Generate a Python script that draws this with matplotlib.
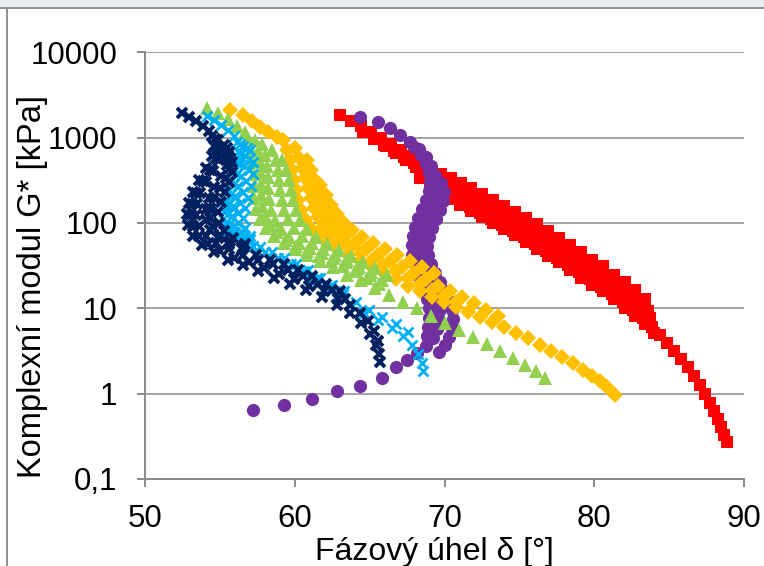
import matplotlib
matplotlib.use("Agg")
import matplotlib.pyplot as plt
from matplotlib.patches import Rectangle
from matplotlib.lines import Line2D
from matplotlib.ticker import NullLocator

plt.rcParams['font.family'] = ['Liberation Sans', 'DejaVu Sans']

# fazovy uhel [°] a komplexni modul [kPa], kazda serie ma nekolik vetvi
navy_delta = [
    [52.47, 52.94, 53.41, 53.87, 54.27],
    [54.47, 54.61, 54.47, 54.07, 53.61, 53.21, 52.94, 52.80, 52.87, 53.21, 53.81, 54.61, 55.54, 56.54, 57.55,
     58.61, 59.68, 60.75, 61.82, 62.82, 63.69, 64.42, 65.03, 65.43, 65.63, 65.69],
    [54.67, 54.81, 54.74, 54.34, 53.87, 53.41, 53.14, 53.07, 53.21, 53.61, 54.21, 55.01, 55.94, 56.95, 57.95,
     58.95, 59.95, 60.95, 61.95, 62.89, 63.69, 64.36, 64.89, 65.29, 65.56],
    [54.87, 55.08, 54.94, 54.54, 54.07, 53.67, 53.47, 53.41, 53.61, 54.07, 54.74, 55.61, 56.54, 57.55, 58.55,
     59.55, 60.55, 61.55, 62.49, 63.36],
    [55.28, 55.54, 55.48, 55.08, 54.61, 54.27, 54.07, 54.07, 54.34, 54.87, 55.61, 56.48, 57.41, 58.35, 59.28,
     60.22, 61.15, 62.09, 63.02],
    [55.48, 55.68, 55.68, 55.41, 55.01, 54.61, 54.34, 54.34, 54.54, 55.01, 55.68, 56.54],
    [55.61, 55.81, 55.81, 55.61, 55.34, 55.08, 54.87, 54.94, 55.28, 55.88, 56.68],
]
navy_g = [
    [1937, 1738, 1560, 1363, 1190],
    [1040, 793, 605, 438, 316, 228, 170, 127, 93.7, 69.6, 54.6, 45.2, 37.3, 31.8, 27.1,
     22.9, 19.5, 16.6, 13.7, 11.0, 8.91, 6.80, 5.05, 3.75, 2.94, 2.37],
    [959, 752, 573, 415, 308, 223, 165, 123, 91.2, 69.6, 56.1, 46.4, 39.4, 34.5, 29.3,
     25.5, 21.8, 18.5, 15.8, 13.0, 10.8, 8.91, 7.18, 5.48, 4.18],
    [933, 712, 544, 404, 299, 223, 165, 123, 91.2, 69.6, 57.6, 49.0, 42.7, 37.3, 32.7,
     27.8, 23.6, 19.5, 16.2, 13.0],
    [815, 622, 475, 352, 261, 194.5, 145, 107, 81.9, 66.0, 56.1, 49.0, 42.7, 37.3, 32.7,
     27.8, 23.6, 19.5, 15.8],
    [752, 573, 438, 334, 254.5, 194.5, 149, 113, 88.8, 71.5, 60.8, 51.7],
    [674, 515, 393, 299, 228, 174, 134, 101, 79.7, 66.0, 56.1],
]

lb_delta = [
    [54.14, 54.61, 55.08, 55.54, 55.94],
    [56.14, 56.21, 56.08, 55.88, 55.68, 55.48, 55.34, 55.28, 55.34, 55.61, 56.08, 56.75, 57.55, 58.41, 59.28,
     60.15, 61.02, 61.89, 62.76, 63.69, 64.62, 65.56, 66.49, 67.23, 67.83, 68.23, 68.50, 68.56],
    [56.34, 56.41, 56.34, 56.14, 55.94, 55.74, 55.61, 55.54, 55.61, 55.94, 56.48, 57.21, 58.01, 58.88, 59.75,
     60.62, 61.49, 62.35, 63.22, 64.09, 64.96, 65.83, 66.76, 67.56],
    [56.54, 56.68, 56.61, 56.41, 56.21, 56.01, 55.88, 55.81, 55.94, 56.34, 56.95, 57.68, 58.48, 59.28, 60.08,
     60.89, 61.69, 62.49, 63.29],
    [56.81, 56.95, 56.95, 56.75, 56.54, 56.34, 56.21, 56.21, 56.48, 57.01],
    [57.01, 57.21, 57.21, 57.08, 56.88, 56.68, 56.54, 56.68, 57.01],
]
lb_g = [
    [1786, 1603, 1400, 1223, 1040],
    [884, 674, 515, 393, 299, 228, 174, 134, 101, 79.7, 64.2, 53.1, 45.2, 38.4, 32.7,
     27.1, 21.2, 16.6, 13.4, 10.8, 8.91, 7.38, 5.94, 4.79, 3.75, 2.94, 2.30, 1.86],
    [837, 657, 488, 372, 284, 217, 165, 126, 96.3, 77.6, 62.5, 53.1, 45.2, 38.4, 32.7,
     27.1, 22.9, 18.5, 14.9, 12.0, 9.67, 8.0, 6.62, 5.33],
    [793, 605, 462, 352, 269, 205, 157, 120, 91.2, 73.5, 60.8, 51.7, 45.2, 38.4, 32.7,
     27.8, 22.9, 19.0, 15.8],
    [752, 558, 415, 308, 228, 170, 130, 98.7, 77.6, 64.2],
    [712, 515, 372, 269, 194.5, 149, 113, 86.5, 69.6],
]

gr_delta = [
    [54.14, 54.87, 55.54, 56.14, 56.68],
    [56.88, 57.08, 57.21, 57.28, 57.28, 57.28, 57.41, 57.68, 58.08, 58.61, 59.28, 60.02, 60.82, 61.69, 62.55,
     63.49, 64.42, 65.36, 66.29, 67.23, 68.16, 69.10, 70.03, 70.97, 71.90, 72.84, 73.71, 74.58, 75.38, 76.11,
     76.71],
    [57.35, 57.55, 57.68, 57.75, 57.75, 57.75, 57.81, 58.01, 58.35, 58.82, 59.42, 60.08, 60.82, 61.62, 62.42,
     63.22, 64.02, 64.83, 65.63],
    [57.81, 58.01, 58.15, 58.21, 58.21, 58.28, 58.41, 58.68, 59.08, 59.62, 60.28, 61.02, 61.82, 62.62, 63.42,
     64.22, 65.03, 65.83],
    [58.48, 58.75, 58.88, 58.95, 59.02, 59.15, 59.28, 59.55, 59.95, 60.48, 61.15, 61.89, 62.69, 63.49, 64.29,
     65.09],
    [59.15, 59.42, 59.62, 59.75, 59.88, 60.08, 60.35, 60.82, 61.42, 62.15, 62.96, 63.76, 64.56, 65.36, 66.16],
]
gr_g = [
    [2218, 1937, 1647, 1363, 1159],
    [985, 712, 515, 372, 269, 194.5, 145, 110, 86.5, 69.6, 57.6, 49.0, 41.6, 35.4, 30.1,
     24.9, 21.2, 17.5, 14.5, 12.0, 9.96, 8.22, 6.80, 5.63, 4.66, 3.85, 3.19, 2.64, 2.19, 1.86,
     1.53],
    [933, 693, 515, 382, 284, 211, 157, 120, 93.7, 77.6, 62.5, 53.1, 46.4, 40.5, 35.4,
     31.0, 27.1, 22.9, 19.5],
    [837, 622, 462, 343, 254.5, 189, 141, 107, 84.1, 67.7, 57.6, 50.4, 44.0, 38.4, 34.5,
     29.3, 24.9, 21.2],
    [712, 544, 415, 316, 241, 184, 141, 110, 86.5, 69.6, 57.6, 49.0, 41.6, 36.4, 31.0,
     26.3],
    [544, 415, 316, 241, 184, 141, 107, 84.1, 67.7, 56.1, 47.7, 40.5, 34.5, 29.3, 24.9],
]

or_delta = [
    [55.68, 56.54, 57.15, 57.68, 58.21, 58.82],
    [59.22, 59.48, 59.68, 59.82, 59.95, 60.08, 60.22, 60.42, 60.68, 61.09, 61.55, 62.15, 62.82, 63.56, 64.36,
     65.16, 65.96, 66.76, 67.56, 68.36, 69.17, 69.97, 70.77, 71.57, 72.37, 73.17, 73.97, 74.78, 75.58, 76.38,
     77.11, 77.85, 78.58, 79.25, 79.85, 80.38, 80.85, 81.39],
    [60.02, 60.28, 60.48, 60.68, 60.89, 61.09, 61.29, 61.55, 61.95, 62.42, 63.02, 63.69, 64.42, 65.16, 65.96,
     66.76, 67.56, 68.36, 69.17, 69.97, 70.77],
    [60.82, 61.09, 61.35, 61.55, 61.75, 62.02, 62.35, 62.82, 63.36, 64.02, 64.76, 65.56, 66.36, 67.16, 67.96,
     68.77, 69.57, 70.37, 71.17, 71.97, 72.77, 73.57],
    [61.69, 62.09, 62.42, 62.82, 63.29, 63.82, 64.49, 65.23, 66.03, 66.83, 67.70, 68.50, 69.30],
]
or_g = [
    [2101, 1835, 1560, 1326, 1159, 1013],
    [933, 712, 544, 415, 316, 241, 184, 141, 110, 86.5, 69.6, 57.6, 49.0, 41.6, 35.4,
     30.1, 25.6, 21.8, 18.5, 15.8, 13.7, 12.0, 10.5, 9.16, 8.0, 6.99, 6.10, 5.19, 4.54, 3.75,
     3.19, 2.72, 2.30, 1.91, 1.62, 1.42, 1.21, 0.971],
    [752, 573, 438, 334, 254.5, 194.5, 149, 116.5, 91.2, 73.5, 60.8, 51.7, 44.0, 37.3, 31.8,
     27.1, 22.9, 19.5, 16.6, 14.1, 12.0],
    [544, 415, 316, 241, 184, 141, 110, 86.5, 69.6, 57.6, 49.0, 41.6, 35.4, 30.1, 25.6,
     21.8, 18.5, 15.8, 13.4, 11.4, 9.67, 8.22],
    [276, 211, 161, 126, 101, 81.9, 67.7, 57.6, 49.0, 41.6, 35.4, 30.1, 25.6],
]

red_delta = [
    [63.02, 63.76, 64.42, 65.09, 65.76, 66.43, 67.10, 67.76, 68.43, 69.10, 69.77, 70.43, 71.10, 71.77, 72.50,
     73.24, 73.97, 74.71, 75.44, 76.18, 76.91, 77.65, 78.38, 79.12, 79.85, 80.59, 81.32, 82.05, 82.72, 83.39],
    [64.56, 65.29, 65.96, 66.63, 67.30, 67.96, 68.63, 69.30, 69.97, 70.63, 71.30, 71.97, 72.71, 73.44, 74.17,
     74.91, 75.64, 76.38, 77.11, 77.85, 78.58, 79.32, 80.05, 80.79, 81.52, 82.25, 82.92, 83.59],
    [66.09, 66.76, 67.43, 68.10, 68.77, 69.43, 70.10, 70.77, 71.44, 72.10, 72.84, 73.57, 74.31, 75.04, 75.78,
     76.51, 77.25, 77.98, 78.72, 79.45, 80.18, 80.92, 81.65, 82.39, 83.06, 83.72],
    [68.36, 69.03, 69.70, 70.37, 71.04, 71.77, 72.50, 73.24, 73.97, 74.71, 75.44, 76.18, 76.91, 77.65, 78.38,
     79.12, 79.85, 80.59, 81.32, 82.05, 82.72, 83.39, 83.99],
    [71.04, 71.70, 72.37, 73.11, 73.84, 74.58, 75.31, 76.04, 76.78, 77.51, 78.25, 78.98, 79.72, 80.45, 81.19,
     81.92, 82.59, 83.26, 83.86, 84.39, 84.86, 85.33, 85.79, 86.26, 86.66, 87.06, 87.40, 87.73, 88.00, 88.26,
     88.47, 88.67, 88.87],
]
red_g = [
    [1835, 1560, 1363, 1159, 985, 837, 712, 605, 515, 438, 372, 334, 291, 254.5, 217,
     184, 157, 134, 113, 96.3, 79.7, 66.0, 54.6, 45.2, 37.3, 31.0, 24.9, 20.1, 16.2, 12.7],
    [1159, 959, 815, 693, 589, 501, 415, 352, 299, 254.5, 223, 194.5, 165, 141, 120,
     101, 86.5, 71.5, 59.2, 49.0, 40.5, 34.5, 27.8, 22.9, 18.5, 14.9, 12.0, 9.41],
    [793, 656, 544, 450, 372, 308, 261, 223, 189, 161, 137, 116.5, 98.7, 84.1, 71.5,
     59.2, 49.0, 40.5, 34.5, 27.8, 22.9, 19.0, 15.3, 12.3, 9.96, 7.79],
    [334, 276, 228, 189, 161, 137, 116.5, 98.7, 84.1, 71.5, 59.2, 49.0, 40.5, 34.5, 27.8,
     22.9, 19.0, 15.8, 12.7, 10.2, 8.22, 6.62, 5.19],
    [184, 152.5, 130, 110, 93.7, 79.7, 67.7, 56.1, 46.4, 38.4, 31.8, 26.3, 21.8, 18.0, 14.9,
     12.0, 9.67, 7.79, 6.10, 4.92, 3.96, 3.19, 2.57, 2.07, 1.62, 1.27, 0.998, 0.78, 0.630, 0.507,
     0.409, 0.329, 0.273],
]

pu_delta = [
    [64.36, 65.56, 66.36, 67.03, 67.70, 68.30, 68.77, 69.10, 69.37, 69.50, 69.43, 69.23, 68.97, 68.70, 68.50,
     68.36, 68.30, 68.36, 68.50, 68.70, 68.97, 69.23, 69.50, 69.63, 69.63, 69.50, 69.23, 68.77, 68.16, 67.50,
     66.76, 65.83, 64.36, 62.82, 61.15, 59.28, 57.21],
    [67.96, 68.43, 68.77, 68.97, 69.03, 68.97, 68.77, 68.50, 68.23, 68.03, 67.90, 67.83, 67.83, 67.96, 68.16,
     68.36, 68.63, 68.83, 68.97, 68.97, 68.90, 68.83],
    [69.77, 69.97, 69.90, 69.70, 69.43, 69.17, 68.97, 68.83, 68.90, 69.10, 69.37, 69.70, 70.03, 70.30, 70.50,
     70.57, 70.50, 70.30, 70.03, 69.63],
]
pu_g = [
    [1738, 1519, 1291, 1069, 884, 732, 589, 462, 362, 284, 223, 174, 137, 107, 84.1,
     66.0, 51.7, 40.5, 31.8, 24.9, 19.5, 15.3, 12.0, 9.41, 7.38, 5.78, 4.54, 3.65, 3.02, 2.50,
     2.07, 1.53, 1.24, 1.08, 0.871, 0.740, 0.647],
    [772, 622, 488, 382, 299, 235, 184, 145, 113, 88.8, 69.6, 54.6, 42.7, 34.5, 26.3,
     20.6, 16.2, 12.7, 9.96, 7.79, 6.10, 4.79],
    [291, 228, 179, 141, 110, 86.5, 67.7, 53.1, 41.6, 32.7, 25.6, 20.1, 15.8, 12.3, 9.67,
     7.58, 5.94, 4.66, 3.75, 3.10],
]

y_ticks = [0.1, 1, 10, 100, 1000, 10000]
y_labels = ['0,1', '1', '10', '100', '1000', '10000']
x_ticks = [50, 60, 70, 80, 90]

W, H = 764, 566
fig = plt.figure(figsize=(W / 100, H / 100), dpi=100)

# okraj screenshotu
fig.patches.append(Rectangle((0, 1 - 7 / H), 1, 7 / H, transform=fig.transFigure,
                             facecolor='#e9edf0', edgecolor='none'))
fig.lines.append(Line2D([0, 1], [1 - 7.5 / H, 1 - 7.5 / H], transform=fig.transFigure,
                        color='#8e8e8e', lw=1.4))
fig.lines.append(Line2D([6.5 / W, 6.5 / W], [0, 1 - 8 / H], transform=fig.transFigure,
                        color='#8e8e8e', lw=1.4))

ax = fig.add_axes([145 / W, 1 - 479 / H, (744 - 145) / W, (479 - 52.3) / H])

series = [
    (red_delta, red_g, dict(marker='s', ms=9, color='#ff0000', mec='#ff0000', mew=0)),
    (pu_delta, pu_g, dict(marker='o', ms=9.5, color='#7030a0', mec='#7030a0', mew=0)),
    (or_delta, or_g, dict(marker='D', ms=8, color='#ffc000', mec='#ffc000', mew=0)),
    (gr_delta, gr_g, dict(marker='^', ms=9.5, color='#92d050', mec='#92d050', mew=0)),
    (lb_delta, lb_g, dict(marker='x', ms=7.5, color='#00b0f0', mew=2.0)),
    (navy_delta, navy_g, dict(marker='x', ms=7, color='#002060', mew=2.8)),
]
for dl, gl, st in series:
    for d, g in zip(dl, gl):
        ax.plot(d, g, linestyle='none', **st)

ax.set_yscale('log')
ax.set_xlim(50, 90)
ax.set_ylim(0.1, 10000)
ax.set_yticks(y_ticks)
ax.set_yticklabels(y_labels)
ax.set_xticks(x_ticks)
ax.yaxis.set_minor_locator(NullLocator())

ax.spines['top'].set_visible(False)
ax.spines['right'].set_visible(False)
for s in ['left', 'bottom']:
    ax.spines[s].set_color('#8a8a8a')
    ax.spines[s].set_linewidth(1.4)
ax.yaxis.grid(True, color='#a3a3a3', lw=1.4)
ax.set_axisbelow(True)
ax.tick_params(axis='both', direction='out', length=5.8, width=1.4, color='#8a8a8a', labelsize=22.5)
ax.tick_params(axis='y', pad=14)
ax.tick_params(axis='x', pad=12.5)

fig.text(434 / W, 1 - 560 / H, 'Fázový úhel δ [°]', ha='center', va='baseline', fontsize=23)
fig.text(41 / W, 1 - 287 / H, 'Komplexní modul G* [kPa]', rotation=90, rotation_mode='anchor',
         ha='center', va='baseline', fontsize=23.5)

fig.savefig('out.png', dpi=100)
